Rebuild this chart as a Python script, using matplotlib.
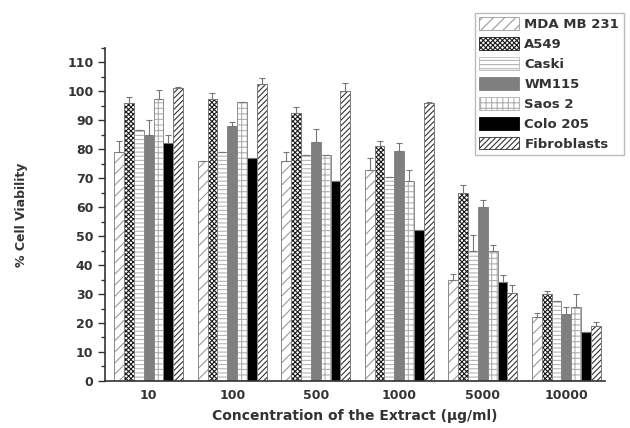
import numpy as np
import matplotlib
matplotlib.use("Agg")
import matplotlib.pyplot as plt
from matplotlib.ticker import MultipleLocator

plt.rcParams["font.family"] = ["DejaVu Sans"]
plt.rcParams["font.weight"] = "bold"
plt.rcParams["hatch.linewidth"] = 0.8

# -------------------------
# Data
# -------------------------
concentrations = ["10", "100", "500", "1000", "5000", "10000"]
cell_lines = ["MDA MB 231", "A549", "Caski", "WM115", "Saos 2", "Colo 205", "Fibroblasts"]

mda = [79, 76, 76, 73, 35, 22]
a549 = [96, 97.5, 92.5, 81, 65, 30]
caski = [86.5, 79, 78, 70.5, 45, 27.5]
wm115 = [85, 88, 82.5, 79.5, 60, 23]
saos = [97.5, 96.5, 78, 69, 45, 25.5]
colo = [82, 77, 69, 52, 34, 17]
fibro = [101, 102.5, 100, 96, 30.5, 19]

mda_err = [4, 0, 3, 4, 2, 1.5]
a549_err = [2, 2, 2, 2, 2.5, 1]
caski_err = [0, 0, 0, 0, 5.5, 0]
wm115_err = [5, 1.5, 4.5, 2.5, 2.5, 2.5]
saos_err = [3, 0, 0, 4, 2, 4.5]
colo_err = [3, 0, 0, 0, 2.5, 0]
fibro_err = [0.5, 2, 3, 0.5, 2.5, 1.5]

values = [mda, a549, caski, wm115, saos, colo, fibro]
errors = [mda_err, a549_err, caski_err, wm115_err, saos_err, colo_err, fibro_err]

# -------------------------
# Styles
# -------------------------
faces = ["white", "white", "white", "#7f7f7f", "white", "black", "white"]
hatches = ["///", "xxxxxxx", "----", "", "+++", "", "//////"]
hatch_cols = ["#9a9a9a", "#1a1a1a", "#b5b5b5", "#7f7f7f", "#b0b0b0", "black", "#333333"]

fig = plt.figure(figsize=(6.3, 4.28), dpi=100)
ax = fig.add_axes([0.167, 0.11, 0.793, 0.778])

x = np.arange(len(concentrations))
width = 0.118
for i, (vals, errs) in enumerate(zip(values, errors)):
    pos = x + (i - 3) * width
    ax.bar(pos, vals, width, color=faces[i], hatch=hatches[i],
           edgecolor=hatch_cols[i], linewidth=0.6, label=cell_lines[i], zorder=2)
    ax.errorbar(pos, vals, yerr=[np.zeros(len(errs)), errs], fmt="none",
                ecolor="#777777", elinewidth=0.8, capsize=2.5, capthick=0.8, zorder=3)
    # outline
    ax.bar(pos, vals, width, fill=False, edgecolor="#888888", linewidth=0.6, zorder=2.5)

ax.set_xlim(-0.52, 5.46)
ax.set_ylim(0, 115)
ax.set_xticks(x)
ax.set_xticklabels(concentrations)
ax.yaxis.set_major_locator(MultipleLocator(10))
ax.yaxis.set_minor_locator(MultipleLocator(5))
ax.tick_params(axis="x", length=0, labelsize=9, pad=6, colors="#333333")
ax.tick_params(axis="y", which="major", length=5, width=1, labelsize=9, direction="out",
               colors="#333333")
ax.tick_params(axis="y", which="minor", length=3, width=1, direction="out", colors="#333333")
for s in ["top", "right"]:
    ax.spines[s].set_visible(False)
for s in ["left", "bottom"]:
    ax.spines[s].set_linewidth(1.2)
    ax.spines[s].set_color("#333333")

ax.set_ylabel("% Cell Viability", fontsize=9, fontweight="bold", labelpad=28, color="#333333")
ax.set_xlabel("Concentration of the Extract (µg/ml)", fontsize=10, fontweight="bold",
              labelpad=5, color="#333333")

leg = fig.legend(loc="upper right", bbox_to_anchor=(0.99, 0.97), borderaxespad=0,
                 fontsize=9.5, frameon=True, fancybox=False, edgecolor="#aaaaaa",
                 handlelength=3.0, handleheight=1.1, labelspacing=0.46,
                 handletextpad=0.4, borderpad=0.35)
leg.get_frame().set_linewidth(1.0)
for t in leg.get_texts():
    t.set_color("#333333")

fig.savefig("out.png", dpi=100)
